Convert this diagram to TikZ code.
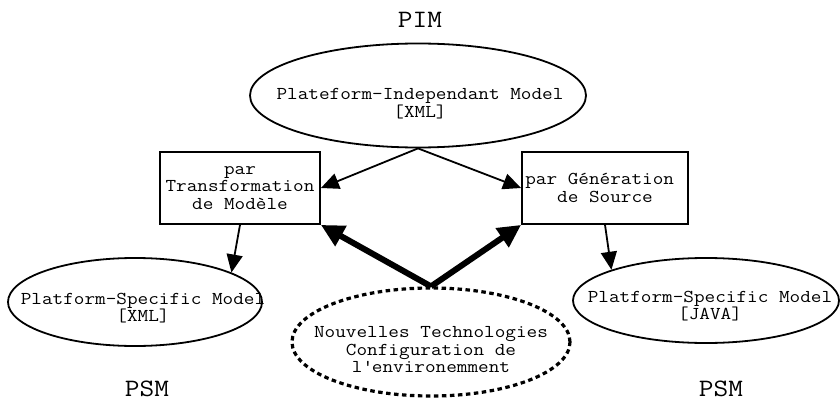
\documentclass[tikz,border=0pt]{standalone}
\usepackage{fontspec}
\setmainfont[FakeStretch=1.14]{Latin Modern Mono}
\usetikzlibrary{shapes.geometric,arrows.meta}
\tikzset{
  lbl/.style={font=\fontsize{18.1}{17.5}\selectfont, align=center, inner sep=0pt},
  big/.style={font=\fontsize{25}{25}\selectfont, inner sep=0pt},
  oval/.style={draw, ellipse, line width=1.8pt, inner sep=0pt},
  dotoval/.style={draw, ellipse, line width=3.2pt, dash pattern=on 4.5pt off 3.5pt, inner sep=0pt},
  boxnode/.style={draw, rectangle, line width=1.8pt, inner sep=0pt, font=\fontsize{18.1}{17.5}\selectfont, align=center},
  thin/.style={line width=1.8pt, -{Triangle[length=18pt,width=16pt]}},
  thick/.style={line width=6pt, -{Triangle[length=23pt,width=22pt]}}
}
\begin{document}
\begin{tikzpicture}[x=1pt,y=-1pt]
\useasboundingbox (0,0) rectangle (840,401);
% titles
\node[big] (pim) at (420,20) {PIM};
\node[big] (psml) at (147,389) {PSM};
\node[big] (psmr) at (721,389) {PSM};
% ellipses
\node[oval, minimum width=336pt, minimum height=104pt] (pimE) at (418,95.5) {};
\node[lbl] (pimT) at (420,103.5) {Plateform-Independant Model\\{[XML]}};
\node[oval, minimum width=254pt, minimum height=88pt] (psmLE) at (135,302) {};
\node[lbl] (psmLT) at (143,308) {Platform-Specific Model\\{[XML]}};
\node[oval, minimum width=266pt, minimum height=85pt] (psmRE) at (706,300.5) {};
\node[lbl] (psmRT) at (710,306) {Platform-Specific Model\\{[JAVA]}};
\node[dotoval, minimum width=278pt, minimum height=108pt] (techE) at (431,342) {};
\node[lbl] (techT) at (431,350) {Nouvelles Technologies\\Configuration de\\l\textquotesingle environemment};
% boxes
\node[boxnode, minimum width=160pt, minimum height=72pt] (boxL) at (240,188) {par\\Transformation\\de Mod\`ele};
\node[boxnode, minimum width=166pt, minimum height=72pt] (boxR) at (605,188) {par G\'en\'eration\hphantom{x}\\de Source};
% connectors
\draw[thin] (pimE.south) -- (boxL.east);
\draw[thin] (pimE.south) -- (boxR.west);
\draw[thin] (boxL.south) -- (psmLE.17);
\draw[thin] (boxR.south) -- (psmRE.162);
\draw[thick] (techE.north) -- (boxL.south east);
\draw[thick] (techE.north) -- (boxR.south west);
\end{tikzpicture}
\end{document}
